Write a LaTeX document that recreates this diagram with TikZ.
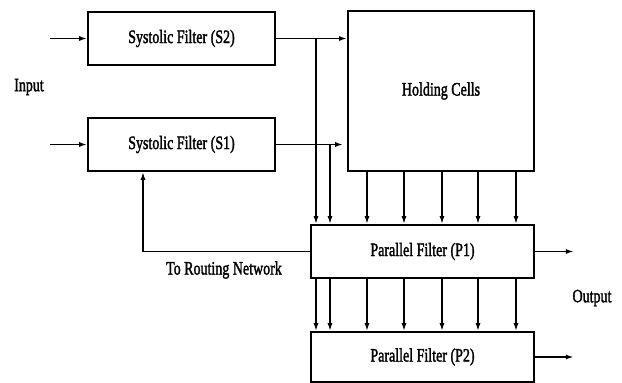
\documentclass[tikz,border=0pt]{standalone}
\usepackage{fontspec}
\setmainfont{Liberation Serif}
\newfontfamily\labfont[FakeBold=2]{Liberation Serif}
\newcommand{\tall}[1]{\scalebox{1}[1.35]{#1}}
\usetikzlibrary{arrows.meta}

\begin{document}
\begin{tikzpicture}[x=1pt,y=-1pt,
  every node/.style={font=\labfont\fontsize{14}{16}\selectfont},
  filter/.style={draw, line width=1.7pt, inner sep=0pt},
  arr/.style={line width=1.7pt, -{Latex[length=8pt,width=5pt]}}]
\useasboundingbox (0,0) rectangle (622,383);
\node[filter, minimum width=187pt, minimum height=53pt] (s2) at (181.5,38.5) {\tall{Systolic Filter (S2)}};
\node[filter, minimum width=187pt, minimum height=53pt] (s1) at (181.5,144.5) {\tall{Systolic Filter (S1)}};
\node[filter, minimum width=186pt, minimum height=160pt] (hold) at (441,91) {\tall{Holding Cells}};
\node[filter, minimum width=223pt, minimum height=53pt] (p1) at (422.5,251.5) {\tall{Parallel Filter (P1)}};
\node[filter, minimum width=223pt, minimum height=50pt] (p2) at (422.5,357) {\tall{Parallel Filter (P2)}};
\node (input) at (29,87) {\tall{Input}};
\node (route) at (224,270) {\tall{To Routing Network}};
\node (output) at (592,298) {\tall{Output}};
\coordinate (in2) at (50,38.5);
\coordinate (in1) at (50,144.5);
\draw[arr] (in2) -- (s2);
\draw[arr] (in1) -- (s1);
\draw[arr] (s2.east) -- (s2.east -| hold.west);
\draw[arr, shorten >=4pt] (s1.east) -- (s1.east -| hold.west);
\draw[arr] (s2.east -| 316,0) -- (p1.north -| 316,0);
\draw[arr] (s1.east -| 330,0) -- (p1.north -| 330,0);
\foreach \x in {367,404,442,478,516}
  \draw[arr] (hold.south -| \x,0) -- (p1.north -| \x,0);
\foreach \x in {316,330,367,404,442,478,516}
  \draw[arr] (p1.south -| \x,0) -- (p2.north -| \x,0);
\draw[arr] (p1.west) -| (s1.south -| 143,0);
\draw[arr] (p1.east) -- ++(39,0);
\draw[arr] (p2.east) -- ++(39,0);
\end{tikzpicture}
\end{document}
